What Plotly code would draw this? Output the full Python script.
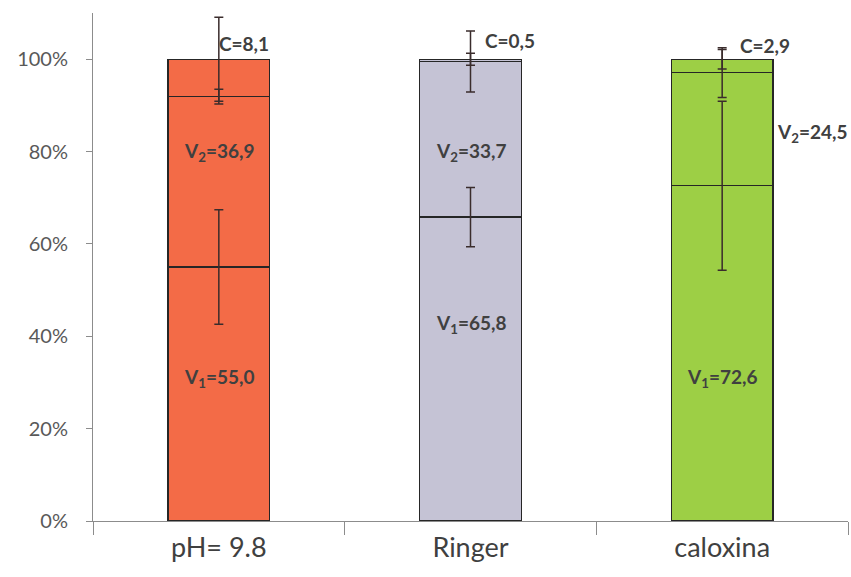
import plotly.graph_objects as go

categories = ["pH= 9.8", "Ringer", "caloxina"]
v1 = [55.0, 65.8, 72.6]
v2 = [36.9, 33.7, 24.5]
c = [8.1, 0.5, 2.9]
v1_err = [12.4, 6.4, 18.3]
v2_err = [1.6, 6.6, 5.4]
c_err = [9.1, 1.3, 2.1]
bar_colors = ["#F36B47", "#C5C3D5", "#9DCF45"]

v1_labels = ["V<sub>1</sub>=55,0", "V<sub>1</sub>=65,8", "V<sub>1</sub>=72,6"]
v2_labels = ["V<sub>2</sub>=36,9", "V<sub>2</sub>=33,7", "V<sub>2</sub>=24,5"]
c_labels = ["C=8,1", "C=0,5", "C=2,9"]

err_style = dict(type="data", visible=True, color="#3a2c2c", thickness=1.5, width=4.5)
line_style = dict(color="#262626", width=1.3)

fig = go.Figure()
for name, vals in [("V1", v1), ("V2", v2), ("C", c)]:
    fig.add_trace(go.Bar(
        x=categories, y=vals, name=name,
        marker=dict(color=bar_colors, line=line_style),
        showlegend=False, hoverinfo="skip",
    ))

# error bars drawn on top, at the cumulative top of each segment
cum1 = list(v1)
cum2 = [a + b for a, b in zip(v1, v2)]
cum3 = [a + b + d for a, b, d in zip(v1, v2, c)]
for tops, errs in [(cum1, v1_err), (cum2, v2_err), (cum3, c_err)]:
    fig.add_trace(go.Scatter(
        x=categories, y=tops, mode="markers",
        marker=dict(size=1, color="rgba(0,0,0,0)"),
        error_y=dict(array=errs, **err_style),
        showlegend=False, hoverinfo="skip",
    ))

font_lab = dict(family="Lato, 'DejaVu Sans', sans-serif", size=19, color="#404040")
ann = []
v1_pos = [31.0, 42.6, 31.0]
v2_pos = [(79.9, "center", 0), (79.9, "center", 0), (84.0, "left", 53)]
c_pos = [(103.5, -2), (104.1, 12), (103.0, 16)]
for i, cat in enumerate(categories):
    ann.append(dict(x=cat, y=v1_pos[i], text="<b>%s</b>" % v1_labels[i], showarrow=False,
                    xanchor="center", yanchor="middle", font=font_lab))
    yv, anc, xs = v2_pos[i]
    ann.append(dict(x=cat, y=yv, text="<b>%s</b>" % v2_labels[i], showarrow=False,
                    xanchor=anc, yanchor="middle", xshift=xs, font=font_lab))
    yc, xs = c_pos[i]
    ann.append(dict(x=cat, y=yc, text="<b>%s</b>" % c_labels[i], showarrow=False,
                    xanchor="left", yanchor="middle", xshift=xs, font=font_lab))

fig.update_layout(
    width=851, height=577,
    margin=dict(l=93, r=3, t=13, b=56),
    barmode="stack", bargap=0.595,
    plot_bgcolor="white", paper_bgcolor="white",
    annotations=ann,
    font=dict(family="Lato, 'DejaVu Sans', sans-serif", color="#595959"),
)
fig.update_yaxes(
    range=[0, 110], tickvals=[0, 20, 40, 60, 80, 100],
    ticktext=["0%", "20%", "40%", "60%", "80%", "100%"],
    showgrid=False, zeroline=False, showline=True, linecolor="#8c8c8c", linewidth=1,
    ticks="outside", ticklen=6, tickcolor="#8c8c8c",
    tickfont=dict(size=20, color="#595959"), ticklabelstandoff=14,
)
fig.update_xaxes(
    showgrid=False, showline=True, linecolor="#8c8c8c", linewidth=1,
    ticks="outside", tickson="boundaries", ticklen=13, tickcolor="#8c8c8c",
    tickfont=dict(size=27, color="#404040"), ticklabelstandoff=3, range=[-0.5, 2.5],
)

fig.write_html("out.html")
